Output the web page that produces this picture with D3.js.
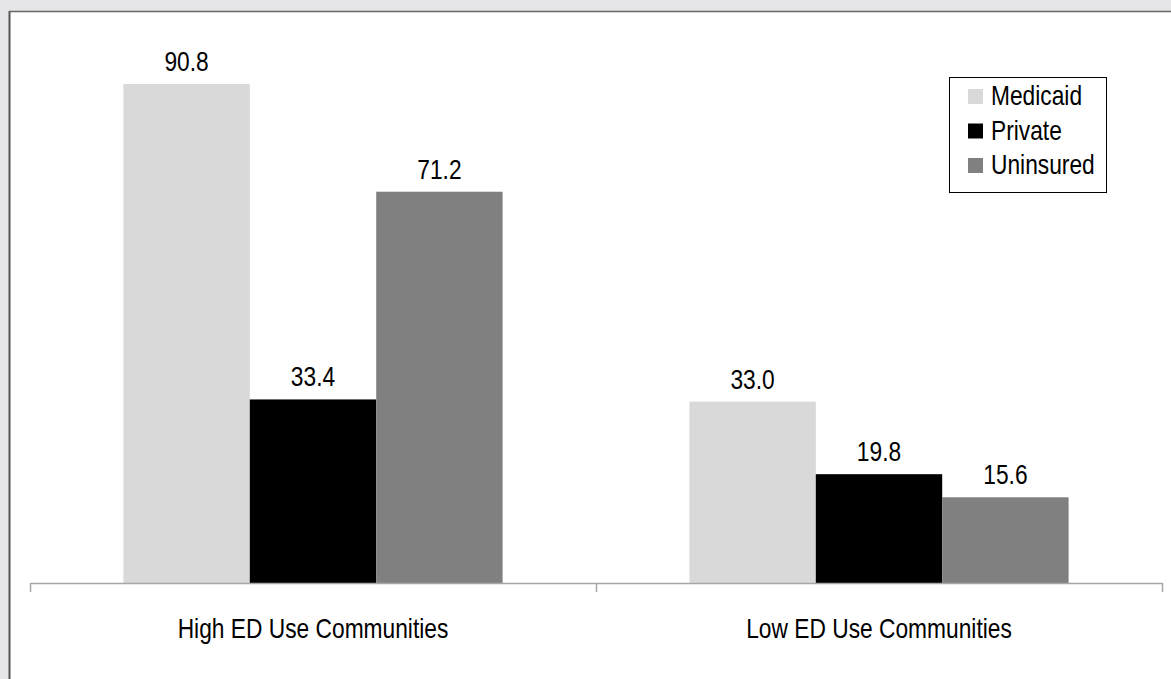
<!DOCTYPE html>
<html><head><meta charset="utf-8">
<script src="https://cdn.jsdelivr.net/npm/d3@7"></script>
<style>body{margin:0;background:#e6e6e8;} svg{display:block;}</style>
</head><body>
<svg id="chart" width="1171" height="679"></svg>
<script>
const categories = ["High ED Use Communities", "Low ED Use Communities"];
const seriesNames = ["Medicaid", "Private", "Uninsured"];
const medicaid = [90.8, 33.0];
const privateIns = [33.4, 19.8];
const uninsured = [71.2, 15.6];
const colors = ["#d9d9d9", "#000000", "#808080"];
const seriesValues = [medicaid, privateIns, uninsured];

const svg = d3.select("#chart");
const font = "'Liberation Sans', Arial, sans-serif";
const fs = 27, sx = 0.843;
svg.append("rect").attr("x", 0).attr("y", 0).attr("width", 1171).attr("height", 679).attr("fill", "#e6e6e8");
svg.append("rect").attr("x", 10).attr("y", 12).attr("width", 1161).attr("height", 667).attr("fill", "#fff");
svg.append("line").attr("x1", 9.5).attr("x2", 9.5).attr("y1", 11).attr("y2", 679).attr("stroke", "#555").attr("stroke-width", 2);
svg.append("line").attr("x1", 9).attr("x2", 1171).attr("y1", 11.5).attr("y2", 11.5).attr("stroke", "#666").attr("stroke-width", 1.5);

const x0 = d3.scaleBand().domain(categories).range([30, 1162]).paddingInner(0).paddingOuter(0);
const inner = 0.67;
const x1 = d3.scaleBand().domain(seriesNames).range([0, x0.bandwidth() * inner]);
const y = d3.scaleLinear().domain([0, 90.8]).range([583, 84]);

const data = [];
categories.forEach((c, i) => seriesNames.forEach((s, j) => data.push({c, s, v: seriesValues[j][i], color: colors[j]})));
const off = x0.bandwidth() * (1 - inner) / 2;

function label(g, x, yy, anchor, txt) {
  g.append("text")
    .attr("transform", `translate(${x},${yy}) scale(${sx},1)`)
    .attr("text-anchor", anchor)
    .attr("font-family", font).attr("font-size", fs).attr("fill", "#000")
    .text(txt);
}

svg.append("g").selectAll("rect").data(data).join("rect")
  .attr("x", d => x0(d.c) + off + x1(d.s))
  .attr("y", d => y(d.v))
  .attr("width", x1.bandwidth())
  .attr("height", d => y(0) - y(d.v))
  .attr("fill", d => d.color);

const lbl = svg.append("g");
data.forEach(d => label(lbl, x0(d.c) + off + x1(d.s) + x1.bandwidth() / 2, y(d.v) - 13, "middle", d.v.toFixed(1)));

// axis
const axis = svg.append("g");
axis.append("line").attr("x1", 30).attr("x2", 1162).attr("y1", 583.5).attr("y2", 583.5).attr("stroke", "#a6a6a6").attr("stroke-width", 1.5);
const tickPos = [30, 596, 1162];
axis.selectAll("line.t").data(tickPos).join("line").attr("class", "t")
  .attr("x1", d => d + 0.5).attr("x2", d => d + 0.5).attr("y1", 583).attr("y2", 592)
  .attr("stroke", "#a6a6a6").attr("stroke-width", 1.5);
categories.forEach(c => label(axis, x0(c) + x0.bandwidth() / 2, 638, "middle", c));

// legend
const lg = svg.append("g");
lg.append("rect").attr("x", 949.5).attr("y", 77.5).attr("width", 157).attr("height", 115)
  .attr("fill", "#fff").attr("stroke", "#000").attr("stroke-width", 1);
seriesNames.forEach((s, i) => {
  const top = 89 + i * 34.5;
  lg.append("rect").attr("x", 968).attr("y", top).attr("width", 15).attr("height", 15).attr("fill", colors[i]);
  label(lg, 991, top + 16, "start", s);
});
</script>
</body></html>
